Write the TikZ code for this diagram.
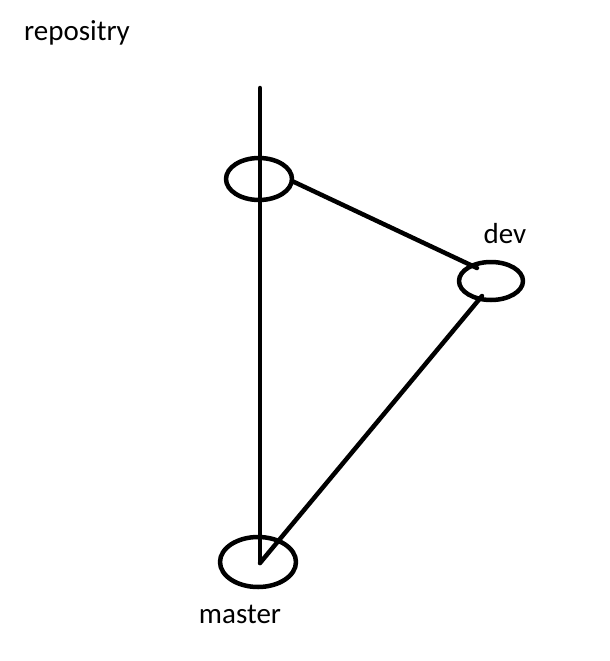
\documentclass[tikz,border=0pt]{standalone}
\usepackage{fontspec}
\setmainfont{Carlito}
\begin{document}
\begin{tikzpicture}[x=1pt,y=-1pt,
  stroke/.style={line width=4.5pt,line cap=round,line join=round},
  lbl/.style={font=\fontsize{29}{32}\selectfont,inner sep=0pt}]
\useasboundingbox (0,0) rectangle (610,661);
\coordinate (top) at (260,88);
\coordinate (c1) at (259,179);
\coordinate (c2) at (491,281);
\coordinate (c3) at (258,562);
\draw[stroke] (c1) ellipse [x radius=33, y radius=21];
\draw[stroke] (c2) ellipse [x radius=32, y radius=19];
\draw[stroke] (c3) ellipse [x radius=38, y radius=25];
\coordinate (e1) at (292,181);
\coordinate (e2) at (477,268);
\coordinate (e3) at (482,296);
\coordinate (e4) at (260,563);
\draw[stroke] (top) -- (e4);
\draw[stroke] (e1) -- (e2);
\draw[stroke] (e3) -- (e4);
\node[lbl] (repo) at (77,33) {repositry};
\node[lbl] (dev) at (505,234) {dev};
\node[lbl] (master) at (240,614) {master};
\end{tikzpicture}
\end{document}
